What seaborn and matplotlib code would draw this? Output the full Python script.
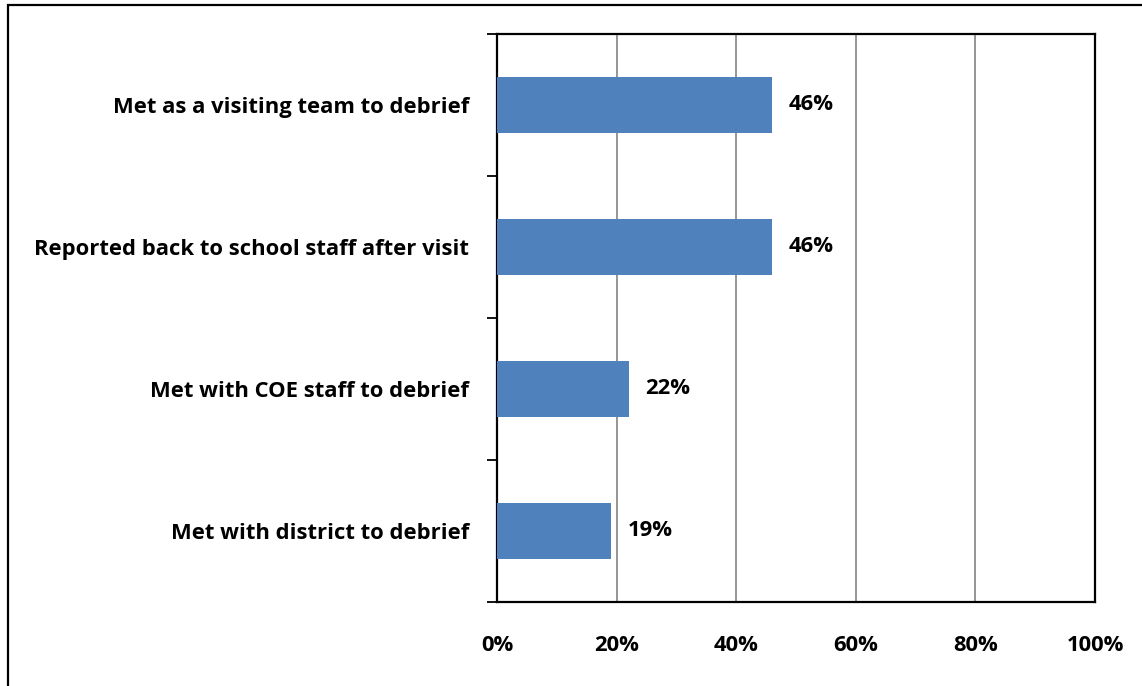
import matplotlib
matplotlib.use("Agg")
import matplotlib.pyplot as plt
import seaborn as sns
import pandas as pd
from matplotlib.patches import Rectangle

categories = [
    "Met as a visiting team to debrief",
    "Reported back to school staff after visit",
    "Met with COE staff to debrief",
    "Met with district to debrief",
]
values = [46, 46, 22, 19]
x_ticks = [0, 20, 40, 60, 80, 100]

df = pd.DataFrame({"activity": categories, "pct": values})

sns.set_style("white")
plt.rcParams["font.family"] = ["Open Sans", "DejaVu Sans"]
plt.rcParams["text.color"] = "black"
plt.rcParams["xtick.color"] = "black"
plt.rcParams["ytick.color"] = "black"

fs = 15.8

fig = plt.figure(figsize=(11.42, 6.86), dpi=100)
ax = fig.add_axes([497 / 1142, 1 - 602 / 686, 598 / 1142, 568 / 686])

sns.barplot(data=df, x="pct", y="activity", color="#4F81BD", saturation=1,
            width=0.4, linewidth=0, ax=ax, zorder=3)

ax.set_xlim(0, 100)
ax.set_ylim(3.5, -0.5)
ax.set_xticks(x_ticks)
ax.set_xticklabels([f"{t}%" for t in x_ticks], fontsize=fs, fontweight="bold")
for t in x_ticks[1:-1]:
    ax.axvline(t, color="#8c8c8c", lw=1.3, zorder=1)
ax.tick_params(axis="x", length=0, pad=24)

# category ticks sit on the boundaries between bars
ax.set_yticks([-0.5, 0.5, 1.5, 2.5, 3.5], minor=True)
ax.set_yticks(range(len(categories)))
ax.set_yticklabels(categories, fontsize=fs, fontweight="bold")
ax.tick_params(axis="y", which="major", length=0, pad=20)
ax.tick_params(axis="y", which="minor", length=7, width=1.3, color="black", left=True)
ax.set_xlabel("")
ax.set_ylabel("")

for s in ax.spines.values():
    s.set_visible(True)
    s.set_color("black")
    s.set_linewidth(1.6)

for i, v in enumerate(values):
    ax.text(v + 2.8, i, f"{v}%", va="center", ha="left",
            fontsize=fs, fontweight="bold", zorder=4)

fig.patches.append(Rectangle((8 / 1142, -0.01), 1.0, 1 - 5 / 686 + 0.01,
                             transform=fig.transFigure, fill=False,
                             edgecolor="black", lw=1.6))

fig.savefig("out.png", dpi=100)
